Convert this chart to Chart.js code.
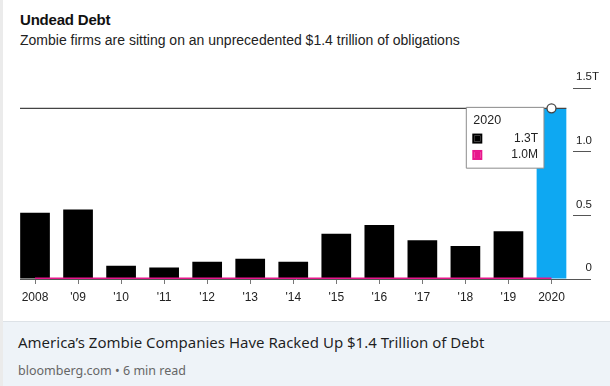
<!DOCTYPE html>
<html>
<head>
<meta charset="utf-8">
<script src="https://cdn.jsdelivr.net/npm/chart.js@4.4.1/dist/chart.umd.min.js"></script>
<style>
  html, body { margin: 0; padding: 0; }
  body {
    width: 610px; height: 386px; overflow: hidden; position: relative;
    background: #fff; font-family: "Liberation Sans", Arial, sans-serif;
  }
  .edge { position: absolute; left: 0; top: 0; width: 3px; height: 386px; background: #ebebeb; }
  .head { position: absolute; left: 20px; top: 11px; color: #111; }
  .head h1 { margin: 0; font-size: 15px; line-height: 18px; font-weight: bold; letter-spacing: -0.2px; }
  .head p { margin: 3px 0 0; font-size: 14px; line-height: 17px; color: #222; }
  .chart-wrap { position: absolute; left: 0; top: 55px; width: 610px; height: 261px; }
  .foot {
    position: absolute; left: 3px; top: 321px; width: 607px; height: 65px;
    background: #eef3f8; border-top: 1px solid #dde2e7; box-sizing: border-box;
    font-family: "Noto Sans", "Open Sans", sans-serif;
  }
  .foot .title { position: absolute; left: 15px; top: 10px; font-size: 15px; color: rgba(0,0,0,0.88); white-space: nowrap; }
  .foot .src { position: absolute; left: 15px; top: 40px; font-size: 12.5px; color: #666; white-space: nowrap; }
</style>
</head>
<body>
<div class="edge"></div>
<div class="head">
  <h1>Undead Debt</h1>
  <p>Zombie firms are sitting on an unprecedented $1.4 trillion of obligations</p>
</div>
<div class="chart-wrap"><canvas id="chart"></canvas></div>
<div class="foot">
  <div class="title">America’s Zombie Companies Have Racked Up $1.4 Trillion of Debt</div>
  <div class="src">bloomberg.com • 6 min read</div>
</div>
<script>
// values in trillions of dollars
const years = ['2008', "'09", "'10", "'11", "'12", "'13", "'14", "'15", "'16", "'17", "'18", "'19", '2020'];
const debt = [0.52, 0.545, 0.105, 0.09, 0.135, 0.16, 0.135, 0.355, 0.425, 0.305, 0.26, 0.375, 1.34];
const second = [0.000001, 0.000001, 0.000001, 0.000001, 0.000001, 0.000001, 0.000001, 0.000001, 0.000001, 0.000001, 0.000001, 0.000001, 0.000001];
const yTicks = [0, 0.5, 1.0, 1.5];
const yTickLabels = ['0', '0.5', '1.0', '1.5T'];

const FONT = '"Liberation Sans", Arial, sans-serif';
const BLACK = '#000';
const BLUE = '#0ea8f2';
const PINK = '#e8168c';
const INK = '#222';
const RULE = '#555';
const last = years.length - 1;

function fmt(v) {
  if (v >= 0.001) return v.toFixed(1) + 'T';
  return (v * 1e6).toFixed(1) + 'M';
}

// tooltip sits left of the hovered bar, top aligned with its value
Chart.Tooltip.positioners.pinned = function (items) {
  if (!items.length) return false;
  const bar = items[0].element;
  return { x: bar.x - 7.5, y: bar.y - 1 };
};

const guides = {
  id: 'guides',
  beforeDatasetsDraw(chart) {
    const { ctx, chartArea, scales } = chart;
    const y0 = Math.round(scales.y.getPixelForValue(0)) + 0.5;
    ctx.save();
    ctx.strokeStyle = RULE;
    ctx.lineWidth = 1;
    ctx.beginPath();
    ctx.moveTo(chartArea.left + 6.5, y0);
    ctx.lineTo(chartArea.right, y0);
    ctx.stroke();
    ctx.restore();
  },
  afterDatasetsDraw(chart) {
    const { ctx, chartArea, scales } = chart;
    const bar = chart.getDatasetMeta(0).data[last];
    ctx.save();
    // crosshair at the active value
    ctx.strokeStyle = '#444';
    ctx.lineWidth = 1.3;
    ctx.beginPath();
    ctx.moveTo(chartArea.left + 6.5, bar.y);
    ctx.lineTo(bar.x + bar.width / 2, bar.y);
    ctx.stroke();
    ctx.beginPath();
    ctx.arc(bar.x, bar.y, 4.5, 0, Math.PI * 2);
    ctx.fillStyle = '#fff';
    ctx.fill();
    ctx.stroke();

    // right axis labels sit above their tick marks
    ctx.fillStyle = INK;
    ctx.font = '11.5px ' + FONT;
    ctx.textBaseline = 'middle';
    ctx.textAlign = 'left';
    const xr = chartArea.right + 19;
    yTicks.forEach((v, i) => {
      const py = scales.y.getPixelForValue(v);
      const label = yTickLabels[i];
      const w = ctx.measureText(label.replace('T', '')).width;
      ctx.fillText(label, xr - w, py - 11);
    });
    ctx.restore();
  }
};

const chart = new Chart(document.getElementById('chart'), {
  type: 'bar',
  data: {
    labels: years,
    datasets: [
      {
        label: 'Debt',
        data: debt,
        backgroundColor: debt.map((v, i) => (i === last ? BLUE : BLACK)),
        barPercentage: 0.69,
        categoryPercentage: 1,
        order: 1
      },
      {
        type: 'line',
        label: 'Firms',
        data: second,
        borderColor: PINK,
        borderWidth: 3,
        pointRadius: 0,
        fill: false,
        order: 0
      }
    ]
  },
  options: {
    responsive: true,
    maintainAspectRatio: false,
    animation: false,
    events: [],
    layout: { padding: { left: 13.5, right: 19, top: 33, bottom: 5.6 } },
    scales: {
      x: {
        grid: { drawOnChartArea: false, drawTicks: true, tickLength: 5, offset: false, color: '#777' },
        border: { display: false },
        ticks: { color: INK, font: { family: FONT, size: 12 }, padding: 6, maxRotation: 0, autoSkip: false }
      },
      y: {
        position: 'right',
        min: 0,
        max: 1.5,
        afterBuildTicks: (scale) => { scale.ticks = yTicks.map(v => ({ value: v })); },
        grid: { drawOnChartArea: false, tickLength: 18, color: RULE },
        border: { display: false },
        ticks: { display: false }
      }
    },
    plugins: {
      legend: { display: false },
      tooltip: {
        position: 'pinned',
        mode: 'index',
        intersect: false,
        xAlign: 'right',
        yAlign: 'top',
        caretSize: 0,
        caretPadding: 0,
        cornerRadius: 0,
        backgroundColor: '#fff',
        borderColor: '#8c8c8c',
        borderWidth: 1,
        titleColor: INK,
        bodyColor: INK,
        titleFont: { family: FONT, size: 12.5, weight: 'normal' },
        bodyFont: { family: FONT, size: 12 },
        titleMarginBottom: 3,
        bodySpacing: 2,
        padding: { top: 6, left: 7, right: 6, bottom: 6 },
        boxWidth: 8,
        boxHeight: 8,
        boxPadding: 28,
        bodyAlign: 'right',
        callbacks: {
          label: (c) => fmt(c.parsed.y),
          labelColor: (c) => {
            const col = c.datasetIndex === 0 ? BLACK : PINK;
            return { borderColor: col, backgroundColor: col, borderWidth: 2 };
          }
        }
      }
    }
  },
  plugins: [guides]
});

chart.tooltip.setActiveElements(
  [{ datasetIndex: 0, index: last }, { datasetIndex: 1, index: last }],
  { x: 0, y: 0 }
);
chart.update();
</script>
</body>
</html>
